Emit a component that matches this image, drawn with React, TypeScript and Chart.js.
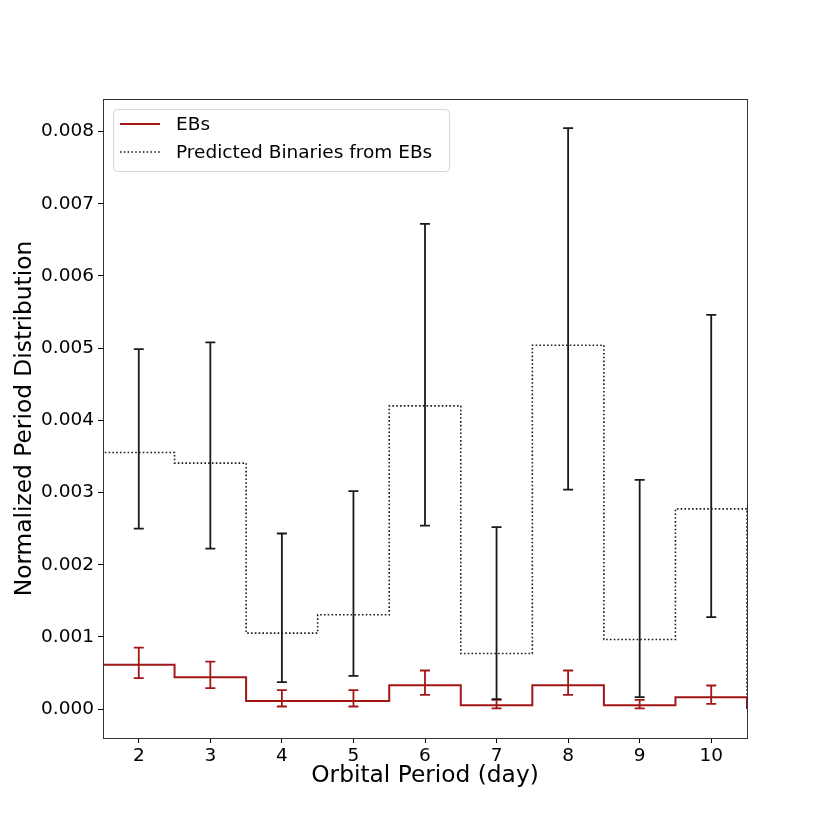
import { useEffect, useRef } from "react";
import { Chart, registerables } from "chart.js";

Chart.register(...registerables);

// bin centres (days) and bin edges of the period histogram
const binCenters = [2, 3, 4, 5, 6, 7, 8, 9, 10];
const binEdges = [1.5, 2.5, 3.5, 4.5, 5.5, 6.5, 7.5, 8.5, 9.5, 10.5];

// observed EBs
const ebValues = [0.000614, 0.000443, 0.000111, 0.000111, 0.000332, 0.000055, 0.000332, 0.000055, 0.000166];
const ebLower = [0.000429, 0.000291, 0.000036, 0.000036, 0.000198, 0.00001, 0.000198, 0.00001, 0.000073];
const ebUpper = [0.000853, 0.000659, 0.000263, 0.000263, 0.000535, 0.000129, 0.000535, 0.000129, 0.000327];

// predicted binaries from EBs
const predValues = [0.003554, 0.003407, 0.001053, 0.001306, 0.0042, 0.00077, 0.00504, 0.000964, 0.002774];
const predLower = [0.0025, 0.002224, 0.000374, 0.000461, 0.00254, 0.000138, 0.00304, 0.000166, 0.001274];
const predUpper = [0.004986, 0.00508, 0.002432, 0.00302, 0.00672, 0.00252, 0.008047, 0.003176, 0.00546];

const xTicks = [2, 3, 4, 5, 6, 7, 8, 9, 10];
const yTicks = [0, 0.001, 0.002, 0.003, 0.004, 0.005, 0.006, 0.007, 0.008];

const FONT = "'DejaVu Sans', sans-serif";
const RED = "#a31616";
const BLACK = "#1a1a1a";

// step outline: from zero at the first edge, each bin's value up to its right edge, back to zero
// (drawn with stepped "after": vertical at the previous edge, then across)
const stepPoints = (vals: number[]) => {
    const pts = [{ x: binEdges[0], y: 0 }];
    vals.forEach((v, i) => pts.push({ x: binEdges[i + 1], y: v }));
    pts.push({ x: binEdges[binEdges.length - 1], y: 0 });
    return pts;
};

const errorBars = {
    id: "errorBars",
    afterDatasetsDraw(chart: any) {
        const { ctx, scales } = chart;
        const groups = [
            { lo: ebLower, hi: ebUpper, color: RED, width: 1.8 },
            { lo: predLower, hi: predUpper, color: BLACK, width: 1.8 },
        ];
        ctx.save();
        ctx.beginPath();
        ctx.rect(chart.chartArea.left, chart.chartArea.top, chart.chartArea.width, chart.chartArea.height);
        ctx.clip();
        groups.forEach((g) => {
            ctx.strokeStyle = g.color;
            ctx.lineWidth = g.width;
            binCenters.forEach((c, i) => {
                const x = scales.x.getPixelForValue(c);
                const y1 = scales.y.getPixelForValue(g.lo[i]);
                const y2 = scales.y.getPixelForValue(g.hi[i]);
                ctx.beginPath();
                ctx.moveTo(x, y1);
                ctx.lineTo(x, y2);
                ctx.moveTo(x - 5, y1);
                ctx.lineTo(x + 5, y1);
                ctx.moveTo(x - 5, y2);
                ctx.lineTo(x + 5, y2);
                ctx.stroke();
            });
        });
        ctx.restore();
    },
};

const frameAndLegend = {
    id: "frameAndLegend",
    afterDraw(chart: any) {
        const { ctx, chartArea: a } = chart;
        ctx.save();
        ctx.strokeStyle = "#333";
        ctx.lineWidth = 1;
        ctx.strokeRect(a.left + 0.5, a.top + 0.5, a.width, a.height);

        // legend box
        const bx = a.left + 10, by = a.top + 10, bw = 336, bh = 62;
        ctx.beginPath();
        ctx.roundRect(bx + 0.5, by + 0.5, bw, bh, 4);
        ctx.fillStyle = "rgba(255,255,255,0.8)";
        ctx.fill();
        ctx.strokeStyle = "#d6d6d6";
        ctx.stroke();

        const items = chart.data.datasets.map((d: any) => ({
            label: d.label,
            color: d.borderColor,
            dash: d.borderDash || [],
            width: d.borderWidth,
        }));
        ctx.font = `18.5px ${FONT}`;
        ctx.textBaseline = "middle";
        items.forEach((it: any, i: number) => {
            const y = by + 15 + i * 28;
            ctx.beginPath();
            ctx.setLineDash(it.dash);
            ctx.strokeStyle = it.color;
            ctx.lineWidth = it.width;
            ctx.moveTo(bx + 7, y);
            ctx.lineTo(bx + 47, y);
            ctx.stroke();
            ctx.setLineDash([]);
            ctx.fillStyle = "#000";
            ctx.fillText(it.label, bx + 63, y + 1);
        });
        ctx.restore();
    },
};

export default function App() {
    const canvasRef = useRef<HTMLCanvasElement>(null);

    useEffect(() => {
        if (!canvasRef.current) return;
        const chart = new Chart(canvasRef.current, {
            type: "line",
            data: {
                datasets: [
                    {
                        label: "EBs",
                        data: stepPoints(ebValues),
                        stepped: "after",
                        borderColor: RED,
                        borderWidth: 2,
                        pointRadius: 0,
                        fill: false,
                    },
                    {
                        label: "Predicted Binaries from EBs",
                        data: stepPoints(predValues),
                        stepped: "after",
                        borderColor: BLACK,
                        borderWidth: 1.6,
                        borderDash: [1.6, 2.2],
                        pointRadius: 0,
                        fill: false,
                    },
                ],
            },
            options: {
                animation: false,
                responsive: true,
                maintainAspectRatio: false,
                layout: { padding: { left: 7, top: 99, right: 83, bottom: 40 } },
                plugins: { legend: { display: false }, tooltip: { enabled: false } },
                scales: {
                    x: {
                        type: "linear",
                        min: 1.5,
                        max: 10.5,
                        afterBuildTicks: (s: any) => {
                            s.ticks = xTicks.map((v) => ({ value: v }));
                        },
                        afterFit: (s: any) => {
                            s.height = 52;
                        },
                        grid: { drawOnChartArea: false, drawTicks: true, tickLength: 5, color: "#000" },
                        border: { display: false },
                        ticks: {
                            color: "#000",
                            padding: 2,
                            maxRotation: 0,
                            autoSkip: false,
                            font: { family: FONT, size: 18.5 },
                            callback: (v: any) => String(v),
                        },
                        title: {
                            display: true,
                            text: "Orbital Period (day)",
                            color: "#000",
                            padding: { top: 1, bottom: 0 },
                            font: { family: FONT, size: 23.3 },
                        },
                    },
                    y: {
                        type: "linear",
                        min: -0.0004,
                        max: 0.00845,
                        afterBuildTicks: (s: any) => {
                            s.ticks = yTicks.map((v) => ({ value: v }));
                        },
                        afterFit: (s: any) => {
                            s.width = 96;
                        },
                        grid: { drawOnChartArea: false, drawTicks: true, tickLength: 5, color: "#000" },
                        border: { display: false },
                        ticks: {
                            color: "#000",
                            padding: 4,
                            autoSkip: false,
                            font: { family: FONT, size: 18.5 },
                            callback: (v: any) => Number(v).toFixed(3),
                        },
                        title: {
                            display: true,
                            text: "Normalized Period Distribution",
                            color: "#000",
                            padding: { top: 4, bottom: 0 },
                            font: { family: FONT, size: 23.3 },
                        },
                    },
                },
            },
            plugins: [errorBars, frameAndLegend],
        });
        return () => chart.destroy();
    }, []);

    return (
        <div style={{ position: "absolute", left: 0, top: 0, width: 830, height: 830, background: "#fff" }}>
            <canvas ref={canvasRef} role="img" aria-label="Step histogram of normalized orbital period distribution" />
        </div>
    );
}
